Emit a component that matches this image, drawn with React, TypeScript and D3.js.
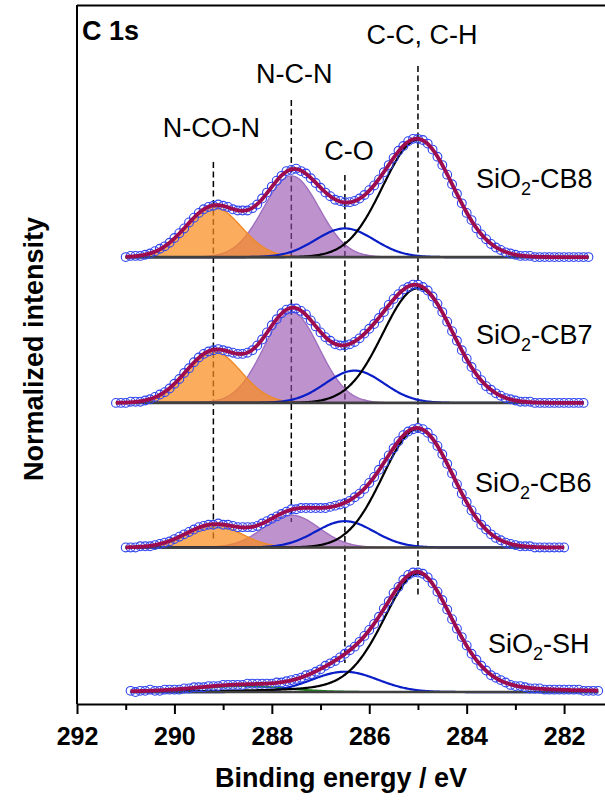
import { useEffect, useRef } from "react";
import * as d3 from "d3";

// binding energy axis
const majorTicks = [292, 290, 288, 286, 284, 282];
const minorTicks = [291, 289, 287, 285, 283];

// dashed reference lines and their labels
const bandCentres = [289.2, 287.6, 286.5, 285.0];
const bandLabels = ["N-CO-N", "N-C-N", "C-O", "C-C, C-H"];

// spectra from top to bottom
const sampleNames = ["-CB8", "-CB7", "-CB6", "-SH"];
const sampleOffsets = [3.64, 2.42, 1.21, 0];
const scanStart = [291.0, 291.2, 291.0, 290.9];
const scanStep = 0.1;

// measured points, % of the C-C maximum
const cb8Counts = [
  0, 1, 1, 1, 2, 3, 5, 7, 9, 12,
  16, 20, 24, 29, 33, 37, 40, 42, 43, 44,
  43, 42, 40, 39, 39, 39, 41, 44, 49, 54,
  59, 64, 68, 72, 73, 74, 72, 70, 66, 62,
  58, 54, 51, 48, 47, 46, 46, 47, 49, 52,
  56, 60, 65, 71, 77, 83, 89, 93, 97, 99,
  99, 98, 95, 90, 84, 77, 69, 61, 53, 45,
  37, 31, 24, 19, 15, 11, 8, 6, 4, 3,
  2, 1, 1, 1, 0, 0, 0, 0, 0, 0,
  0, 0, 0, 0, 0, 0,
];
const cb7Counts = [
  0, 0, 0, 1, 1, 1, 2, 3, 5, 7,
  9, 12, 16, 20, 25, 29, 34, 38, 41, 43,
  44, 45, 44, 43, 42, 41, 41, 42, 44, 48,
  53, 59, 65, 70, 75, 78, 79, 79, 77, 74,
  69, 64, 59, 55, 52, 49, 48, 48, 49, 51,
  54, 58, 62, 66, 71, 76, 82, 87, 91, 95,
  97, 99, 99, 97, 94, 89, 83, 76, 68, 60,
  52, 44, 37, 30, 24, 19, 14, 11, 8, 6,
  4, 3, 2, 1, 1, 1, 0, 0, 0, 0,
  0, 0, 0, 0, 0, 0, 0,
];
const cb6Counts = [
  0, 0, 0, 1, 1, 1, 2, 3, 4, 5,
  7, 9, 11, 13, 15, 17, 18, 19, 19, 20,
  19, 19, 18, 17, 17, 17, 17, 18, 20, 22,
  24, 26, 28, 30, 32, 32, 33, 33, 33, 33,
  33, 33, 34, 35, 36, 37, 39, 42, 45, 49,
  54, 59, 65, 71, 77, 83, 89, 94, 97, 99,
  100, 99, 96, 91, 85, 78, 70, 62, 53, 45,
  38, 31, 25, 19, 15, 11, 8, 6, 4, 3,
  2, 1, 1, 1, 0, 0, 0, 0, 0, 0,
  0,
];
const shCounts = [
  1, 0, 1, 1, 2, 1, 1, 2, 2, 2,
  2, 3, 3, 4, 4, 4, 5, 5, 5, 6,
  6, 6, 6, 6, 7, 7, 7, 7, 7, 7,
  8, 8, 9, 10, 11, 12, 14, 15, 17, 19,
  22, 24, 26, 29, 32, 35, 38, 42, 47, 52,
  57, 63, 70, 76, 83, 88, 94, 98, 100, 100,
  99, 96, 91, 84, 77, 69, 61, 53, 46, 39,
  32, 27, 22, 18, 14, 12, 10, 8, 6, 5,
  5, 4, 3, 3, 3, 2, 2, 2, 2, 2,
  2, 2, 2, 1, 1, 1, 1,
];
const sampleCounts = [cb8Counts, cb7Counts, cb6Counts, shCounts];

// fitted components: band, centre (eV), height (%), sigma (eV), lorentz share
const cb8Fit = [
  { band: 1, c: 287.6, h: 68, s: 0.57, m: 0 },
  { band: 0, c: 289.2, h: 42, s: 0.57, m: 0 },
  { band: 2, c: 286.5, h: 24, s: 0.6, m: 0 },
  { band: 3, c: 285.0, h: 98, s: 0.72, m: 0 },
];
const cb7Fit = [
  { band: 1, c: 287.6, h: 76, s: 0.57, m: 0 },
  { band: 0, c: 289.2, h: 43, s: 0.57, m: 0 },
  { band: 2, c: 286.3, h: 27, s: 0.6, m: 0 },
  { band: 3, c: 285.0, h: 96, s: 0.72, m: 0 },
];
const cb6Fit = [
  { band: 1, c: 287.6, h: 27, s: 0.57, m: 0 },
  { band: 0, c: 289.2, h: 19, s: 0.57, m: 0 },
  { band: 2, c: 286.5, h: 22, s: 0.6, m: 0 },
  { band: 3, c: 285.0, h: 99, s: 0.72, m: 0 },
];
const shFit = [
  { band: 4, c: 288.6, h: 5, s: 0.9, m: 0 },
  { band: 2, c: 286.5, h: 17, s: 0.68, m: 0 },
  { band: 3, c: 285.0, h: 99, s: 0.72, m: 0.25 },
];
const sampleFits = [cb8Fit, cb7Fit, cb6Fit, shFit];

const FONT = "'Liberation Sans', Arial, Helvetica, sans-serif";

// band look: fill for the two nitrogen bands, plain lines for the rest
const bandStyle = [
  { fill: "rgba(250,140,30,0.72)", stroke: "#ef8a2a", width: 1.4 },
  { fill: "rgba(150,80,175,0.62)", stroke: "#a06fbf", width: 1.4 },
  { fill: "none", stroke: "#0a1ec8", width: 2.2 },
  { fill: "none", stroke: "#000000", width: 2.2 },
  { fill: "none", stroke: "#1c8c1c", width: 2 },
];

// label layout (px)
const bandLabelY = [137, 83, 160, 44];
const bandLabelDx = [-2, 3, 4, 4];
const dashTop = [162, 100, 175, 66];
const dashBottom = [540, 522, 663, 595];
const sampleLabelX = [476, 476, 475, 488];
const sampleLabelY = [188, 344, 492, 653];

const component = (p, e) => {
  const d = e - p.c;
  const g = Math.exp((-d * d) / (2 * p.s * p.s));
  const gamma = p.s * 1.18;
  const l = 1 / (1 + (d / gamma) * (d / gamma));
  return p.h * ((1 - p.m) * g + p.m * l);
};

export default function App() {
  const axisRef = useRef(null);
  const left = 77;
  const top = 5;
  const bottom = 704;

  const x = d3.scaleLinear().domain([292, 281.16]).range([left, 605]);
  const y = d3.scaleLinear().domain([-0.1, 5.75]).range([bottom, top]);

  useEffect(() => {
    const g = d3.select(axisRef.current);
    g.selectAll("*").remove();

    const minor = g
      .append("g")
      .attr("transform", `translate(0,${bottom})`)
      .call(d3.axisBottom(x).tickValues(minorTicks).tickSize(6).tickSizeOuter(0).tickFormat(() => ""));
    minor.select(".domain").remove();
    minor.selectAll(".tick line").attr("stroke-width", 2);

    const major = g
      .append("g")
      .attr("transform", `translate(0,${bottom})`)
      .call(
        d3.axisBottom(x)
          .tickValues(majorTicks)
          .tickSize(10)
          .tickSizeOuter(0)
          .tickPadding(13)
          .tickFormat(d3.format("d"))
      );
    major.select(".domain").attr("stroke-width", 2);
    major.selectAll(".tick line").attr("stroke-width", 2);
    major
      .selectAll(".tick text")
      .attr("font-family", FONT)
      .attr("font-size", 25)
      .attr("font-weight", "bold")
      .attr("fill", "#000");
  }, []);

  const spectra = sampleCounts.map((counts, i) => {
    const off = sampleOffsets[i];
    const start = scanStart[i];
    const end = start - (counts.length - 1) * scanStep;
    const yv = (v) => y(off + v / 100);
    const grid = d3.range(0, Math.round((start - end) / 0.02) + 1).map((k) => start - k * 0.02);
    const fit = sampleFits[i];

    const area = (p) =>
      d3.area().x((e) => x(e)).y0(yv(0)).y1((e) => yv(component(p, e)))(grid);
    const line = (p) => d3.line().x((e) => x(e)).y((e) => yv(component(p, e)))(grid);
    const envelope = d3
      .line()
      .x((e) => x(e))
      .y((e) => yv(d3.sum(fit, (p) => component(p, e))))(grid);

    return (
      <g key={sampleNames[i]}>
        {fit.map((p, k) => {
          const st = bandStyle[p.band];
          return st.fill !== "none" ? (
            <path key={k} d={area(p)} fill={st.fill} stroke={st.stroke} strokeWidth={st.width} />
          ) : null;
        })}
        {fit.map((p, k) => {
          const st = bandStyle[p.band];
          return st.fill === "none" ? (
            <path key={k} d={line(p)} fill="none" stroke={st.stroke} strokeWidth={st.width} />
          ) : null;
        })}
        <line x1={x(start)} x2={x(end)} y1={yv(0)} y2={yv(0)} stroke="#404040" strokeWidth={2.6} />
        {counts.map((v, k) => (
          <circle
            key={k}
            cx={x(start - k * scanStep)}
            cy={yv(v)}
            r={4.4}
            fill="none"
            stroke="#2f45f0"
            strokeWidth={1.1}
          />
        ))}
        <path d={envelope} fill="none" stroke="#9c0c4e" strokeWidth={3.8} />
      </g>
    );
  });

  return (
    <svg
      width={605}
      height={800}
      style={{ position: "absolute", left: 0, top: 0, background: "#fff" }}
      fontFamily={FONT}
    >
      <rect x={0} y={0} width={605} height={800} fill="#fff" />

      {bandCentres.map((c, i) => (
        <line
          key={c}
          x1={x(c)}
          x2={x(c)}
          y1={dashTop[i]}
          y2={dashBottom[i]}
          stroke="#000"
          strokeWidth={1.5}
          strokeDasharray="6 3.5"
        />
      ))}

      {spectra}

      {bandLabels.map((t, i) => (
        <text key={t} x={x(bandCentres[i]) + bandLabelDx[i]} y={bandLabelY[i]} fontSize={27} textAnchor="middle">
          {t}
        </text>
      ))}

      {sampleNames.map((t, i) => (
        <text key={t} x={sampleLabelX[i]} y={sampleLabelY[i]} fontSize={27}>
          SiO
          <tspan fontSize={18} dy={7}>2</tspan>
          <tspan dy={-7}>{t}</tspan>
        </text>
      ))}

      <text x={82} y={40} fontSize={27} fontWeight="bold">
        C 1s
      </text>

      <line x1={left} x2={left} y1={top} y2={bottom} stroke="#000" strokeWidth={2} />
      <line x1={left} x2={605} y1={top + 0.5} y2={top + 0.5} stroke="#000" strokeWidth={2} />
      <g ref={axisRef} />

      <text
        x={341}
        y={787}
        fontSize={27}
        fontWeight="bold"
        textAnchor="middle"
      >
        Binding energy / eV
      </text>
      <text
        transform="translate(43,349) rotate(-90)"
        fontSize={27}
        fontWeight="bold"
        textAnchor="middle"
      >
        Normalized intensity
      </text>
    </svg>
  );
}
